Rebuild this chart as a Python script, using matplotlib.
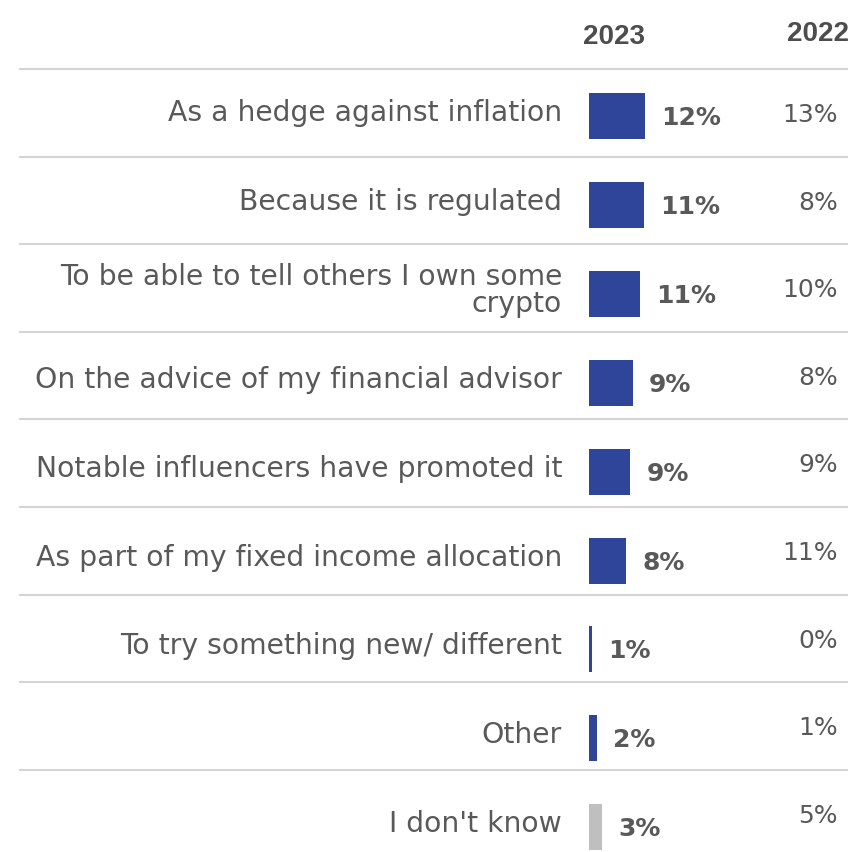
import matplotlib
matplotlib.use("Agg")
from matplotlib import pyplot as plt

categories = [
    "As a hedge against inflation",
    "Because it is regulated",
    "To be able to tell others I own some\ncrypto",
    "On the advice of my financial advisor",
    "Notable influencers have promoted it",
    "As part of my fixed income allocation",
    "To try something new/ different",
    "Other",
    "I don't know",
]
# bar lengths (the printed labels are rounded)
share_2023 = [11.6, 11.45, 10.6, 9.1, 8.6, 7.7, 0.6, 1.7, 2.7]
labels_2023 = ["12%", "11%", "11%", "9%", "9%", "8%", "1%", "2%", "3%"]
labels_2022 = ["13%", "8%", "10%", "8%", "9%", "11%", "0%", "1%", "5%"]
headers = ["2023", "2022"]

W, H = 848, 852
BLUE = "#2F4599"
GREY = "#BFBFBF"
TXT = "#595959"

fig = plt.figure(figsize=(W / 100, H / 100), dpi=100)

# full-figure axes in pixel units for text and rules
ax = fig.add_axes([0, 0, 1, 1])
ax.set_xlim(0, W)
ax.set_ylim(H, 0)
ax.axis("off")

# bar axes: x in percent, y in pixels
x0 = 589
px_per_pct = 4.82
bx = fig.add_axes([x0 / W, 0, (W - x0) / W, 1])
bx.set_xlim(0, (W - x0) / px_per_pct)
bx.set_ylim(H, 0)
bx.axis("off")
bx.patch.set_alpha(0)

bar_y = [116 + 88.9 * i for i in range(len(categories))]
col_y = [115 + 87.6 * i for i in range(len(categories))]
colors = [BLUE] * 8 + [GREY]
bx.barh(bar_y, share_2023, height=46, color=colors, left=0)

for i, cat in enumerate(categories):
    ax.text(562, bar_y[i] - 3, cat, ha="right", va="center", fontsize=20.3,
            color=TXT, family="DejaVu Sans", linespacing=0.95)
    bx.text(share_2023[i] + 16 / px_per_pct, bar_y[i] + 2, labels_2023[i],
            ha="left", va="center", fontsize=18, fontweight="bold",
            color=TXT, family="DejaVu Sans")
    ax.text(838, col_y[i], labels_2022[i], ha="right", va="center",
            fontsize=18, color=TXT, family="DejaVu Sans")

# separators
for i in range(len(categories)):
    yy = 69 + 87.6 * i
    ax.plot([20, W], [yy, yy], color="#D4D4D4", lw=1.5)

ax.text(614, 37, headers[0], ha="center", va="center", fontsize=20,
        fontweight="bold", color="#4D4D4D", family="Liberation Sans")
ax.text(818, 34, headers[1], ha="center", va="center", fontsize=20,
        fontweight="bold", color="#4D4D4D", family="Liberation Sans")

fig.savefig("out.png", dpi=100)
